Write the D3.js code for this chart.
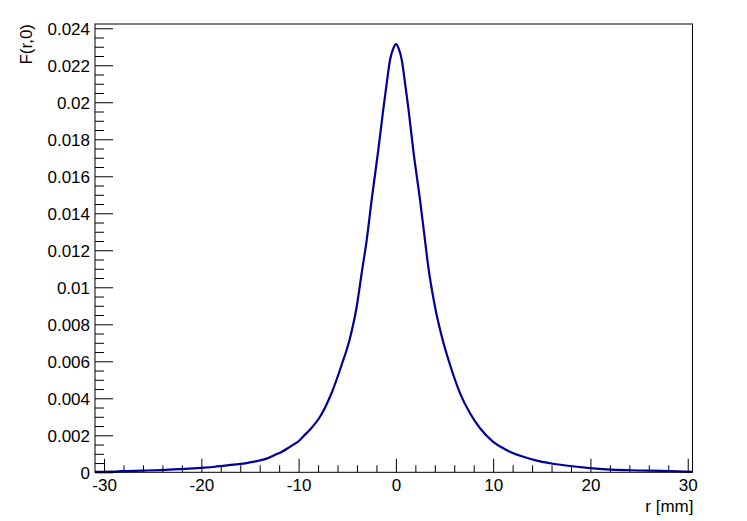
<!DOCTYPE html>
<html>
<head>
<meta charset="utf-8">
<script src="https://cdn.jsdelivr.net/npm/d3@7"></script>
<style>
  body { margin: 0; background: #fff; }
  text { font-family: "Liberation Sans", Arial, sans-serif; }
</style>
</head>
<body>
<svg id="viz"></svg>
<script>
// values
const rValues = [-30.93, -29.0, -28.2, -26.0, -24.1, -21.7, -20.0, -18.6, -17.8, -16.4,
  -15.35, -14.7, -14.0, -13.3, -12.8, -12.3, -11.75, -11.2, -10.6, -10.0,
  -9.5, -8.84, -7.8, -6.6, -5.58, -4.72, -4.03, -3.52, -3.0, -2.49,
  -1.81, -1.3, -0.95, -0.6, -0.27, 0, 0.29, 0.6, 0.95, 1.3,
  1.79, 2.48, 2.99, 3.33, 4.02, 4.71, 5.57, 6.6, 7.62, 8.65,
  10.0, 11.04, 12.07, 13.1, 14.48, 15.85, 17.9, 19.96, 21.7, 24.07,
  28.2, 30.49];
const fValues = [0.00003, 0.00004, 0.00006, 0.00009, 0.00012, 0.00018, 0.00024, 0.0003, 0.00035, 0.00043,
  0.0005, 0.00056, 0.00064, 0.00074, 0.00085, 0.00097, 0.0011, 0.00127, 0.00148, 0.00168,
  0.00195, 0.0023, 0.003, 0.0043, 0.0058, 0.00725, 0.00895, 0.01076, 0.01255, 0.01472,
  0.01742, 0.0196, 0.0210, 0.0223, 0.0229, 0.02314, 0.0229, 0.0223, 0.0210, 0.0196,
  0.0174, 0.01472, 0.01255, 0.01111, 0.00895, 0.00735, 0.0058, 0.00427, 0.00319, 0.00238,
  0.00165, 0.0013, 0.00103, 0.00084, 0.00063, 0.00049, 0.00034, 0.00023, 0.00016, 0.00011,
  0.00007, 0.00002];

const xTicks = [-30, -20, -10, 0, 10, 20, 30];
const yTicks = [0, 0.002, 0.004, 0.006, 0.008, 0.01, 0.012, 0.014, 0.016, 0.018, 0.02, 0.022, 0.024];
const xLabel = "r [mm]";
const yLabel = "F(r,0)";

const width = 747;
const height = 521;
const margin = { top: 24, right: 54.5, bottom: 48.7, left: 95 };

const svg = d3.select("#viz")
    .attr("width", width)
    .attr("height", height)
    .attr("viewBox", [0, 0, width, height]);

svg.append("rect")
    .attr("width", width)
    .attr("height", height)
    .attr("fill", "#fff");

const xScale = d3.scaleLinear()
    .domain([-30.93, 30.49])
    .range([margin.left, width - margin.right]);

const yScale = d3.scaleLinear()
    .domain([0, 0.02423])
    .range([height - margin.bottom, margin.top]);

const xMinor = d3.range(-30, 30.01, 2).map(d => +d.toFixed(1)).filter(d => !xTicks.includes(d));
const yMinor = d3.range(0, 0.0242, 0.0005).map(d => +d.toFixed(4)).filter(d => !yTicks.some(t => Math.abs(t - d) < 1e-9));

const fontSize = "17px";

// x axis, ticks pointing inside the frame
svg.append("g")
    .attr("transform", `translate(0,${height - margin.bottom})`)
    .call(d3.axisBottom(xScale).tickValues(xTicks).tickSize(-13.5).tickPadding(7).tickFormat(d => String(d)))
    .call(g => {
        g.select(".domain").remove();
        g.selectAll("text").attr("font-size", fontSize).attr("font-family", "Liberation Sans, Arial, sans-serif").attr("fill", "#000");
    });

svg.append("g")
    .attr("transform", `translate(0,${height - margin.bottom})`)
    .call(d3.axisBottom(xScale).tickValues(xMinor).tickSize(-7).tickFormat(""))
    .call(g => g.select(".domain").remove());

// y axis
svg.append("g")
    .attr("transform", `translate(${margin.left},0)`)
    .call(d3.axisLeft(yScale).tickValues(yTicks).tickSize(-18).tickPadding(5).tickFormat(d => String(+d.toFixed(3))))
    .call(g => {
        g.select(".domain").remove();
        g.selectAll("text").attr("font-size", fontSize).attr("font-family", "Liberation Sans, Arial, sans-serif").attr("fill", "#000").attr("dy", "0.38em");
    });

svg.append("g")
    .attr("transform", `translate(${margin.left},0)`)
    .call(d3.axisLeft(yScale).tickValues(yMinor).tickSize(-9).tickFormat(""))
    .call(g => g.select(".domain").remove());

// the curve
const points = rValues.map((r, i) => ({ r: r, f: fValues[i] }));

const line = d3.line()
    .x(d => xScale(d.r))
    .y(d => yScale(d.f))
    .curve(d3.curveMonotoneX);

svg.append("path")
    .datum(points)
    .attr("fill", "none")
    .attr("stroke", "#000099")
    .attr("stroke-width", 2.2)
    .attr("d", line);

// frame
svg.append("rect")
    .attr("x", margin.left)
    .attr("y", margin.top)
    .attr("width", width - margin.left - margin.right)
    .attr("height", height - margin.top - margin.bottom)
    .attr("fill", "none")
    .attr("stroke", "#000")
    .attr("stroke-width", 1);

// axis titles
svg.append("text")
    .attr("x", width - margin.right + 1)
    .attr("y", 512)
    .attr("text-anchor", "end")
    .attr("font-size", fontSize)
    .text(xLabel);

svg.append("text")
    .attr("transform", `translate(32,${margin.top}) rotate(-90)`)
    .attr("text-anchor", "end")
    .attr("font-size", fontSize)
    .text(yLabel);
</script>
</body>
</html>
